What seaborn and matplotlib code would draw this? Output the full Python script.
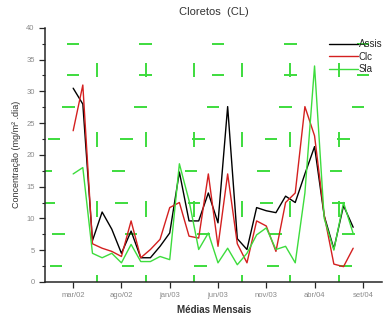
import seaborn as sns
import matplotlib.pyplot as plt
import numpy as np
import pandas as pd

# monthly means, mar/02 .. ago/04 (month index 0 = mar/02)
assis = [30.5, 28.0, 6.5, 11.0, 8.3, 4.5, 8.0, 3.8, 3.8, 5.6, 7.7, 17.3, 9.6, 9.6, 14.0,
         9.3, 27.6, 6.8, 5.1, 11.7, 11.2, 10.9, 13.5, 12.5, 17.0, 21.3, 10.4, 5.2, 12.0, 8.6]
clc = [23.8, 31.0, 6.0, 5.3, 4.8, 4.0, 9.6, 3.8, 5.1, 6.7, 11.7, 12.5, 7.2, 6.9, 17.0,
       5.6, 17.0, 6.0, 3.0, 9.6, 8.8, 4.8, 12.5, 14.0, 27.6, 23.0, 10.5, 2.8, 2.4, 5.3]
sla = [17.0, 18.0, 4.5, 3.8, 4.5, 3.0, 5.9, 3.2, 3.2, 4.0, 3.5, 18.6, 12.8, 5.1, 7.7,
       3.0, 5.3, 2.7, 4.5, 7.4, 8.5, 5.1, 5.6, 3.0, 14.0, 34.0, 10.0, 5.0, 12.5, 7.6]
series_names = ["Assis", "Clc", "Sla"]
tick_labels = ["mar/02", "ago/02", "jan/03", "jun/03", "nov/03", "abr/04", "set/04"]

months = np.arange(len(assis))
df = pd.DataFrame({
    "mes": np.tile(months, 3),
    "valor": assis + clc + sla,
    "serie": np.repeat(series_names, len(months)),
})

sns.set_style("ticks")
plt.rcParams["font.family"] = ["Liberation Sans", "DejaVu Sans"]

fig = plt.figure(figsize=(3.86, 3.24), dpi=100)
ax = fig.add_axes([0.117, 0.13, 0.873, 0.784])

green = "#3ddc3d"

# scattered green dash pattern of the original background
row_offsets = {37.5: 0.0, 32.5: 0.0, 27.5: -0.5, 22.5: -2.0,
               17.5: -2.8, 12.5: -2.5, 7.5: -1.5, 2.5: -1.8}
for y, off in row_offsets.items():
    xs = np.arange(off, 31.5, 7.5)
    ax.hlines([y] * len(xs), xs - 0.65, xs + 0.65, color=green, lw=1.4, zorder=1)
for y0, y1 in [(32.2, 34.4), (21.3, 23.6), (10.2, 12.7), (0.0, 1.1)]:
    xs = np.arange(2.5, 30, 5)
    ax.vlines(xs, y0, y1, color=green, lw=1.4, zorder=1)

sns.lineplot(data=df, x="mes", y="valor", hue="serie", hue_order=series_names,
             palette=["black", "#d42020", green], lw=1.0, ax=ax, zorder=3)

ax.set_xlim(-2.9, 32)
ax.set_ylim(0, 40)
ax.set_xticks(np.arange(0, 31, 5))
ax.set_xticklabels(tick_labels)
ax.set_yticks(np.arange(0, 41, 5))
ax.set_yticks(np.arange(0, 40, 2.5), minor=True)
ax.tick_params(axis="both", labelsize=5.5, labelcolor="#8a8a8a", length=4, width=0.9)
ax.tick_params(axis="y", which="minor", length=2.5, width=0.8)
for side in ["top", "right"]:
    ax.spines[side].set_visible(False)
for side in ["left", "bottom"]:
    ax.spines[side].set_linewidth(1.1)

ax.set_title("Cloretos  (CL)", fontsize=8, color="#333333", pad=9)
ax.set_xlabel("Médias Mensais", fontsize=7, fontweight="bold", color="#333333")
ax.set_ylabel("Concentração (mg/m² .dia)", fontsize=6.5, color="#333333")

leg = ax.legend(loc="upper left", bbox_to_anchor=(0.83, 0.97), frameon=False,
                fontsize=7, handlelength=3.0, handletextpad=0.1,
                labelspacing=0.25, borderaxespad=0)

fig.savefig("out.png", dpi=100)
